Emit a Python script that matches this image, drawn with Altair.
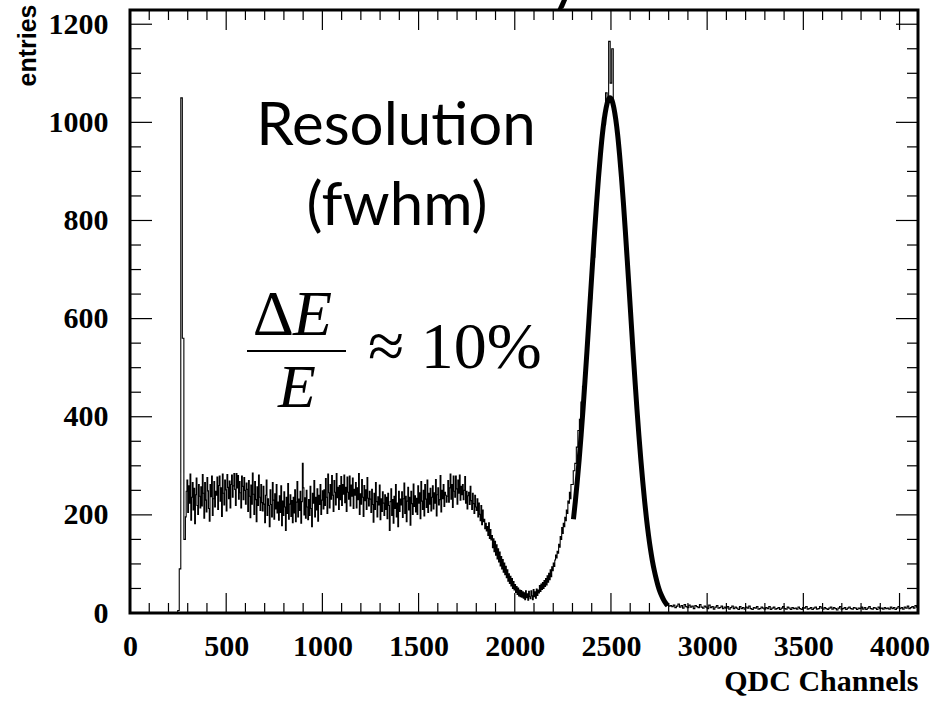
import altair as alt
import pandas as pd

# ---------------- data ----------------
# Each segment: first bin edge (QDC channel), bin width (channels), counts per bin

# 240 - 287, 8 channels per bin: pedestal spike
spike_start, spike_width = 240, 8
counts_spike = [0, 5, 90, 1050, 560, 150]

# 288 - 1759, 4 channels per bin: Compton plateau
plateau_start, plateau_width = 288, 4
counts_plateau = [
    196, 248, 271, 205, 259, 224, 283, 189, 236, 266, 210, 254, 182, 241, 275, 219, 201, 262, 238, 214,
    257, 218, 282, 244, 193, 266, 230, 206, 276, 249, 213, 187, 262, 237, 279, 199, 233, 268, 216, 248,
    240, 277, 211, 260, 279, 228, 255, 197, 283, 244, 220, 271, 251, 208, 282, 256, 233, 269, 214, 262,
    281, 236, 259, 284, 252, 219, 284, 255, 280, 232, 268, 245, 214, 279, 258, 231, 276, 250, 222, 265,
    252, 207, 270, 238, 194, 261, 222, 285, 242, 201, 268, 231, 186, 257, 219, 281, 236, 209, 262, 225,
    208, 258, 222, 184, 240, 271, 199, 233, 219, 176, 251, 221, 196, 266, 230, 191, 243, 212, 262, 204,
    226, 189, 239, 205, 259, 178, 228, 199, 247, 216, 168, 236, 203, 264, 191, 222, 241, 197, 229, 184,
    236, 204, 251, 186, 226, 268, 196, 232, 209, 248, 183, 227, 305, 255, 200, 235, 193, 250, 216, 190,
    231, 199, 258, 213, 176, 244, 224, 270, 196, 236, 210, 253, 187, 240, 221, 262, 201, 230, 249, 212,
    251, 219, 274, 236, 203, 283, 245, 214, 262, 232, 280, 240, 207, 270, 246, 220, 284, 235, 256, 211,
    260, 231, 278, 219, 262, 242, 281, 225, 256, 207, 277, 246, 232, 279, 218, 261, 238, 275, 213, 252,
    240, 266, 214, 255, 231, 284, 201, 243, 222, 272, 236, 197, 260, 229, 251, 211, 276, 234, 218, 248,
    232, 205, 252, 221, 185, 244, 211, 266, 227, 196, 237, 220, 261, 190, 233, 207, 247, 224, 199, 241,
    211, 236, 192, 244, 219, 168, 227, 253, 199, 231, 183, 238, 213, 262, 196, 224, 176, 248, 207, 232,
    220, 247, 195, 233, 265, 203, 238, 186, 228, 256, 210, 236, 179, 248, 223, 201, 263, 217, 239, 206,
    234, 201, 259, 224, 245, 192, 268, 228, 211, 250, 198, 262, 232, 215, 271, 205, 244, 222, 254, 208,
    236, 259, 212, 245, 224, 272, 198, 241, 255, 220, 231, 280, 206, 250, 233, 262, 217, 246, 240, 226,
    238, 270, 226, 255, 283, 232, 262, 215, 279, 248, 236, 279, 253, 222, 271, 244, 281, 230, 258, 241,
    262, 231, 250, 278, 224, 248, 212, 239,
]

# 1760 - 2295, 4 channels per bin: Compton edge, valley and rising flank
edge_start, edge_width = 1760, 4
counts_edge = [
    246, 221, 258, 229, 211, 244, 223, 203, 240, 216,
    209, 233, 196, 224, 201, 188, 219, 180, 210, 186,
    191, 172, 183, 167, 176, 158, 184, 152, 170, 149,
    158, 133, 151, 125, 146, 118, 139, 110, 131, 104,
    124, 96, 115, 90, 109, 83, 102, 78, 95, 72,
    88, 65, 80, 60, 75, 55, 70, 50, 64, 47,
    58, 42, 54, 38, 51, 35, 47, 33, 46, 32,
    43, 30, 41, 27, 45, 31, 39, 26, 44, 33,
    29, 45, 35, 27, 48, 33, 43, 30, 49, 36,
    47, 41, 56, 44, 59, 48, 62, 50, 66, 54,
    70, 57, 76, 63, 81, 68, 88, 74, 94, 86,
    102, 95, 108, 118, 112, 126, 122, 140, 134, 156,
    150, 174, 162, 183, 176, 195, 188, 210, 203, 228,
    224, 246, 233, 262,
]

# 2296 - 2815, 8 channels per bin: photopeak
peak_start, peak_width = 2296, 8
counts_peak = [
    262, 290, 305, 338, 372, 395, 430, 462, 490, 530, 560, 598, 640, 682, 725, 790, 835, 872, 930, 955,
    1010, 995, 1060, 1045, 1165, 1080, 1150, 1030, 1005, 985, 975, 930, 880, 838, 796, 748, 700, 655,
    612, 560, 515, 470, 425, 378, 340, 298, 262, 230, 205, 172, 148, 125, 108, 90, 76, 62, 50, 40, 33,
    27, 22, 19, 16, 14, 15,
]

# 2816 - 4095, 8 channels per bin: flat tail
tail_start, tail_width = 2816, 8
counts_tail = [
    13, 16, 11, 14, 18, 12, 15, 10, 17, 13, 11, 16, 12, 14, 9, 15, 13, 11, 17, 12,
    10, 14, 12, 9, 16, 11, 13, 8, 12, 15, 10, 11, 14, 9, 12, 10, 13, 8, 11, 14,
    9, 12, 10, 7, 13, 9, 11, 8, 12, 10, 14, 9, 7, 11, 10, 13, 8, 9, 12, 10,
    8, 11, 9, 13, 7, 10, 12, 8, 9, 11, 7, 10, 13, 9, 8, 12, 10, 7, 11, 9,
    10, 8, 12, 9, 7, 11, 10, 13, 8, 9, 11, 7, 10, 12, 8, 9, 13, 10, 8, 11,
    9, 7, 10, 12, 8, 11, 9, 6, 10, 13, 8, 9, 11, 7, 10, 12, 9, 8, 11, 10,
    7, 10, 9, 12, 8, 11, 7, 10, 13, 9, 8, 11, 10, 7, 12, 9, 10, 8, 11, 9,
    10, 8, 12, 9, 11, 7, 10, 13, 9, 11, 8, 12, 10, 14, 9, 11, 13, 10, 15, 12,
]

# Gaussian fit curve, sampled every 10 channels from channel 2305
FIT_START = 2305
FIT_STEP = 10
fit_values = [
    191, 228, 269, 314, 363, 416, 473, 532, 594, 656,
    717, 777, 834, 886, 933, 974, 1006, 1030, 1045, 1050,
    1045, 1030, 1006, 974, 933, 886, 834, 777, 717, 656,
    594, 532, 473, 416, 363, 314, 269, 228, 191, 159,
    131, 107, 87, 70, 55, 43, 34, 26, 20, 15,
]

x_label_values = [0, 500, 1000, 1500, 2000, 2500, 3000, 3500, 4000]
x_minor_values = [v for v in range(0, 4100, 100) if v % 500 != 0]
y_label_values = [0, 200, 400, 600, 800, 1000, 1200]
y_minor_values = [v for v in range(0, 1250, 50) if v % 200 != 0]

X_MAX = 4096
Y_MAX = 1229

# ---------------- tables ----------------
segments = [
    (spike_start, spike_width, counts_spike),
    (plateau_start, plateau_width, counts_plateau),
    (edge_start, edge_width, counts_edge),
    (peak_start, peak_width, counts_peak),
    (tail_start, tail_width, counts_tail),
]
edges, counts = [], []
for start, width, vals in segments:
    edges += [start + width * i for i in range(len(vals))]
    counts += vals
hist = pd.DataFrame({"ch": edges + [X_MAX], "n": counts + [counts[-1]]})
fit = pd.DataFrame({"ch": [FIT_START + FIT_STEP * i for i in range(len(fit_values))],
                    "n": fit_values})

W, H = 788, 603
xs = alt.Scale(domain=[0, X_MAX], nice=False, zero=False)
ys = alt.Scale(domain=[0, Y_MAX], nice=False)

SERIF = "Liberation Serif"

x_axis = alt.Axis(values=x_label_values, format="d", labelFont=SERIF, labelFontWeight="bold",
                  labelFontSize=30, labelColor="black", ticks=False, tickSize=0, domain=False,
                  grid=False, labelPadding=18, labelOverlap=False, labelFlush=False,
                  title="QDC Channels", titleFont=SERIF, titleFontWeight="bold", titleFontSize=30,
                  titleColor="black", titleAnchor="end", titleAlign="right", titleX=W, titleY=77,
                  titleBaseline="alphabetic")
y_axis = alt.Axis(values=y_label_values, format="d", labelFont=SERIF, labelFontWeight="bold",
                  labelFontSize=30, labelColor="black", ticks=False, tickSize=0, domain=False,
                  grid=False, labelPadding=22, labelOverlap=False, labelFlush=False,
                  title="entries", titleFont="Liberation Sans", titleFontWeight="bold",
                  titleFontSize=25, titleColor="black", titleAngle=-90, titleAlign="right",
                  titleBaseline="alphabetic", titleX=-95, titleY=-6)

hist_line = alt.Chart(hist).mark_line(interpolate="step-after", color="black",
                                      strokeWidth=1.1).encode(
    x=alt.X("ch:Q", scale=xs, axis=x_axis),
    y=alt.Y("n:Q", scale=ys, axis=y_axis),
)

fit_line = alt.Chart(fit).mark_line(interpolate="monotone", color="black", strokeWidth=5).encode(
    x=alt.X("ch:Q", scale=xs),
    y=alt.Y("n:Q", scale=ys),
)

# ROOT-style inward ticks on all four sides
xmaj = pd.DataFrame({"v": x_label_values})
xmin = pd.DataFrame({"v": x_minor_values})
ymaj = pd.DataFrame({"v": y_label_values})
ymin = pd.DataFrame({"v": y_minor_values})

def xticks(df, length):
    bottom = alt.Chart(df).mark_rule(color="black", strokeWidth=1.2).encode(
        x=alt.X("v:Q", scale=xs), y=alt.value(H), y2=alt.value(H - length))
    top = alt.Chart(df).mark_rule(color="black", strokeWidth=1.2).encode(
        x=alt.X("v:Q", scale=xs), y=alt.value(0), y2=alt.value(length))
    return [bottom, top]

def yticks(df, length):
    left = alt.Chart(df).mark_rule(color="black", strokeWidth=1.2).encode(
        y=alt.Y("v:Q", scale=ys), x=alt.value(0), x2=alt.value(length))
    right = alt.Chart(df).mark_rule(color="black", strokeWidth=1.2).encode(
        y=alt.Y("v:Q", scale=ys), x=alt.value(W), x2=alt.value(W - length))
    return [left, right]

tick_layers = xticks(xmaj, 20) + xticks(xmin, 10) + yticks(ymaj, 22) + yticks(ymin, 11)

one = pd.DataFrame({"t": [""]})

def label(text, x, y, font, size, align="center", style="normal", weight="normal"):
    return alt.Chart(pd.DataFrame({"t": [text]})).mark_text(
        font=font, fontSize=size, align=align, baseline="alphabetic", fontStyle=style,
        fontWeight=weight, color="black").encode(text="t:N", x=alt.value(x), y=alt.value(y))

annotations = [
    label("Resolution", 266, 135, "Lato", 60),
    label("(fwhm)", 267, 215, "Lato", 60),
    label("Δ", 164, 325, SERIF, 64, align="right"),
    label("E", 163, 325, SERIF, 64, align="left", style="italic"),
    label("E", 167, 397, SERIF, 62, style="italic"),
    label("≈ 10%", 238, 358, SERIF, 66, align="left"),
    # descender of the title that the picture crops above the frame
    label("y", 436, -12, "Lato", 64),
]
frac_rule = alt.Chart(one).mark_rule(color="black", strokeWidth=2).encode(
    x=alt.value(117), x2=alt.value(216), y=alt.value(341))

chart = alt.layer(hist_line, fit_line, *tick_layers, *annotations, frac_rule).properties(
    width=W, height=H,
    autosize=alt.AutoSizeParams(type="none"),
    padding={"left": 130, "top": 10, "right": 17, "bottom": 96},
    background="white",
).configure_view(stroke="black", strokeWidth=3)

chart.save("out.html", embed_options={"renderer": "svg", "actions": False})
